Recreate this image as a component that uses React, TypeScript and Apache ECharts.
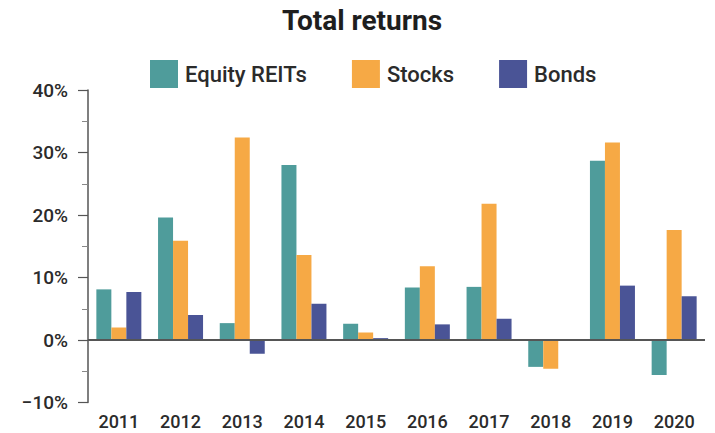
import React, { useEffect, useRef } from "react";
import * as echarts from "echarts";

const years = ["2011", "2012", "2013", "2014", "2015", "2016", "2017", "2018", "2019", "2020"];
const equityReits = [8.1, 19.6, 2.7, 28.0, 2.6, 8.4, 8.5, -4.3, 28.7, -5.6];
const stocks = [2.0, 15.9, 32.4, 13.6, 1.2, 11.8, 21.8, -4.6, 31.6, 17.6];
const bonds = [7.7, 4.0, -2.2, 5.8, 0.3, 2.5, 3.4, 0.1, 8.7, 7.0];
const seriesNames = ["Equity REITs", "Stocks", "Bonds"];
const yMin = -10;
const yMax = 40;
const yStep = 10;
const yTickLabels = ["\u221210%", "0%", "10%", "20%", "30%", "40%"];
const titleText = "Total returns";

const ROBOTO = "Roboto, 'Noto Sans', sans-serif";
const colors = ["#4f9c9b", "#f6a945", "#4a5496"];

export default function App() {
  const ref = useRef<HTMLDivElement>(null);
  useEffect(() => {
    if (!ref.current) return;
    const chart = echarts.init(ref.current, undefined, { renderer: "svg" });
    const mkSeries = (name: string, data: number[], i: number) => ({
      name,
      type: "bar",
      data,
      barWidth: 15,
      barGap: "0%",
      itemStyle: { color: colors[i] },
      ...(i === 2
        ? {
            markLine: {
              silent: true,
              symbol: "none",
              label: { show: false },
              lineStyle: { color: "#555", width: 2, type: "solid" },
              data: [{ yAxis: 0 }],
            },
          }
        : {}),
    });
    chart.setOption({
      animation: false,
      color: colors,
      graphic: [
        {
          type: "text",
          x: 362,
          y: 20,
          style: {
            text: titleText,
            textAlign: "center",
            textVerticalAlign: "middle",
            font: `bold 28px ${ROBOTO}`,
            fill: "#1e1e1e",
          },
        },
      ],
      legend: {
        left: 150,
        top: 60,
        itemWidth: 28,
        itemHeight: 28,
        itemGap: 45,
        icon: "rect",
        padding: 0,
        data: seriesNames,
        textStyle: {
          fontFamily: ROBOTO,
          fontSize: 22,
          fontWeight: 500,
          color: "#2b2b2b",
          padding: [0, 0, 0, 2],
        },
      },
      grid: { left: 88, right: 10, top: 90, bottom: 30.5, containLabel: false },
      xAxis: {
        type: "category",
        data: years,
        axisLine: { show: false },
        axisTick: { show: false },
        axisLabel: {
          interval: 0,
          margin: 10,
          fontFamily: ROBOTO,
          fontSize: 18,
          fontWeight: 500,
          color: "#2b2b2b",
        },
      },
      yAxis: {
        type: "value",
        min: yMin,
        max: yMax,
        interval: yStep,
        splitLine: { show: false },
        axisLine: { show: true, lineStyle: { color: "#555", width: 1.5 } },
        axisTick: { show: true, length: 10, lineStyle: { color: "#555", width: 1.2 } },
        minorTick: { show: true, splitNumber: 2, length: 6, lineStyle: { color: "#888", width: 1 } },
        axisLabel: {
          margin: 20,
          fontFamily: ROBOTO,
          fontSize: 19,
          fontWeight: 500,
          color: "#2b2b2b",
          formatter: (v: number) => yTickLabels[Math.round((v - yMin) / yStep)],
        },
      },
      series: [
        mkSeries(seriesNames[0], equityReits, 0),
        mkSeries(seriesNames[1], stocks, 1),
        mkSeries(seriesNames[2], bonds, 2),
      ],
    });
    return () => chart.dispose();
  }, []);
  return (
    <div
      ref={ref}
      style={{ position: "fixed", left: 0, top: 0, width: 715, height: 433, background: "#fff" }}
    />
  );
}
